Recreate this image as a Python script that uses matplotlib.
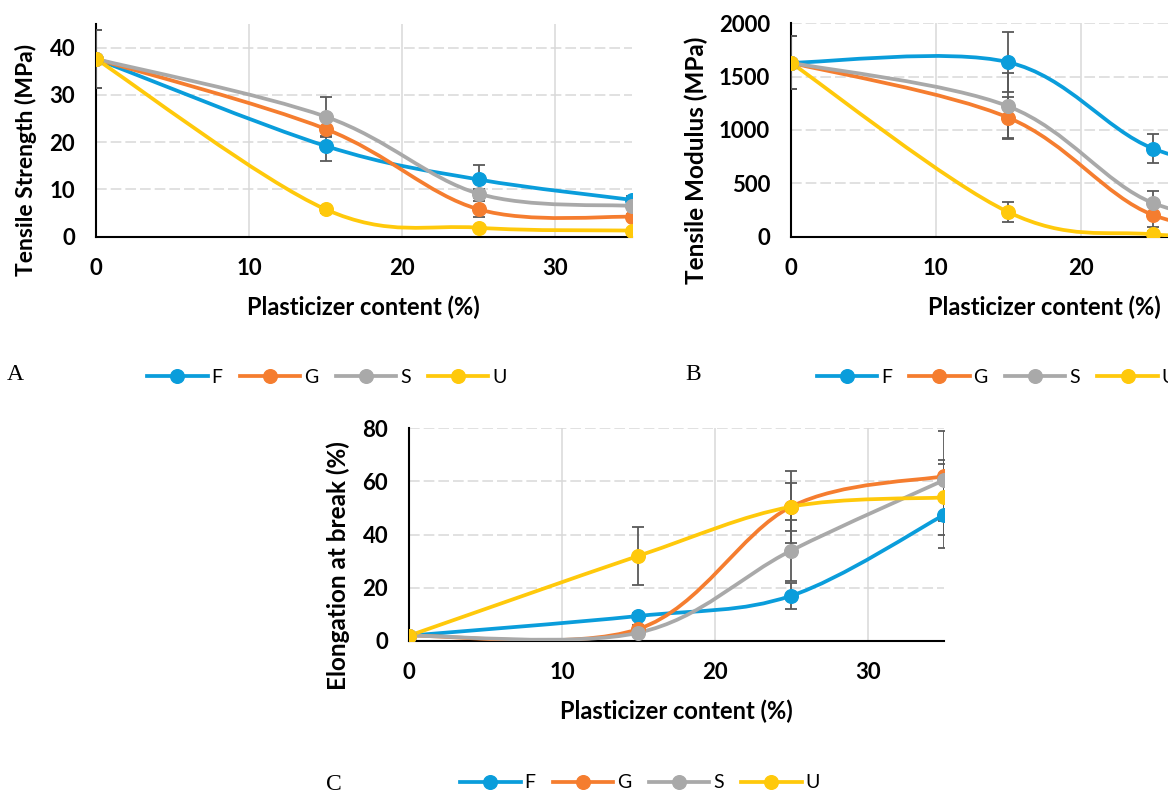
import numpy as np
import matplotlib
matplotlib.use("Agg")
import matplotlib.pyplot as plt
from matplotlib.path import Path
from matplotlib.patches import PathPatch
from matplotlib.lines import Line2D

plt.rcParams['font.family'] = ['Lato', 'DejaVu Sans']

# plasticizer content (%)
content = [0, 15, 25, 35]
series = ["F", "G", "S", "U"]
colors = ["#0a9ddb", "#f57d2f", "#a9a9a9", "#ffc90b"]

# tensile strength (MPa)
ts_F = [37.6, 19.2, 12.1, 7.8]
ts_G = [37.6, 22.8, 5.8, 4.2]
ts_S = [37.6, 25.4, 9.1, 6.5]
ts_U = [37.6, 5.8, 1.9, 1.3]
ts_F_err = [6.2, 3.1, 3.1, 0.8]
ts_G_err = [6.2, 1.8, 1.7, 0.6]
ts_S_err = [6.2, 4.2, 1.0, 0.6]
ts_U_err = [6.2, 0.7, 0.4, 0.3]

# tensile modulus (MPa)
tm_F = [1630, 1635, 826, 560]
tm_G = [1630, 1116, 203, 70]
tm_S = [1630, 1222, 315, 140]
tm_U = [1630, 231, 22, 10]
tm_F_err = [250, 280, 135, 100]
tm_G_err = [250, 190, 110, 60]
tm_S_err = [250, 310, 110, 60]
tm_U_err = [250, 90, 30, 10]

# elongation at break (%)
eb_F = [2, 9.4, 17, 47.4]
eb_G = [2, 4.5, 50.5, 62]
eb_S = [2, 3.1, 34, 60.5]
eb_U = [2, 32, 50.5, 54]
eb_F_err = [0.5, 1, 5, 12.5]
eb_G_err = [0.5, 1.5, 9, 17]
eb_S_err = [0.5, 1, 11.5, 6]
eb_U_err = [0.5, 11, 13.5, 14]


def smooth_path(x, y):
    # excel style smoothed line (bezier, 1/6 tension)
    pts = np.column_stack([x, y]).astype(float)
    n = len(pts)
    verts = [pts[0]]
    codes = [Path.MOVETO]
    for i in range(n - 1):
        p0 = pts[max(i - 1, 0)]
        p1 = pts[i]
        p2 = pts[i + 1]
        p3 = pts[min(i + 2, n - 1)]
        verts += [p1 + (p2 - p0) / 6, p2 - (p3 - p1) / 6, p2]
        codes += [Path.CURVE4] * 3
    return Path(verts, codes)


def panel(ax, ys, errs, ymax, yticks, ylabel, ylab_xy, ylab_size=17.5):
    for y, e, c in zip(ys, errs, colors):
        ax.add_patch(PathPatch(smooth_path(content, y), fill=False, edgecolor=c,
                               lw=2.7, capstyle='round', zorder=3))
        ax.errorbar(content, y, yerr=e, fmt='none', ecolor='#595959',
                    elinewidth=1.3, capsize=4, capthick=1.3, zorder=4)
        ax.plot(content, y, 'o', color=c, ms=9.8, zorder=5)
    ax.set_xlim(0, 35)
    ax.set_ylim(0, ymax)
    ax.set_xticks([0, 10, 20, 30])
    ax.set_yticks(yticks)
    ax.grid(axis='x', color='#d9d9d9', lw=1.1)
    ax.grid(axis='y', color='#d9d9d9', lw=1.1, linestyle=(0, (7, 2.6)))
    ax.set_axisbelow(True)
    for s in ['top', 'right']:
        ax.spines[s].set_visible(False)
    for s in ['left', 'bottom']:
        ax.spines[s].set_linewidth(1.5)
    ax.tick_params(length=0, pad=15, labelsize=16)
    for lab in ax.get_xticklabels() + ax.get_yticklabels():
        lab.set_fontweight('bold')
    ax.set_xlabel("Plasticizer content (%)", fontsize=17, fontweight='bold')
    ax.xaxis.set_label_coords(0.5, -0.275)
    ax.set_ylabel(ylabel, fontsize=ylab_size, fontweight='bold')
    ax.yaxis.set_label_coords(*ylab_xy)


fig = plt.figure(figsize=(11.68, 7.94), dpi=100)
axA = fig.add_axes([0.0822, 0.7019, 0.4585, 0.2679])
axB = fig.add_axes([0.6772, 0.7019, 0.434, 0.2688])
axC = fig.add_axes([0.3502, 0.1927, 0.458, 0.2679])

panel(axA, [ts_F, ts_G, ts_S, ts_U], [ts_F_err, ts_G_err, ts_S_err, ts_U_err],
      45, [0, 10, 20, 30, 40], "Tensile Strength (MPa)", (-0.11, 0.36), 16.5)
panel(axB, [tm_F, tm_G, tm_S, tm_U], [tm_F_err, tm_G_err, tm_S_err, tm_U_err],
      2000, [0, 500, 1000, 1500, 2000], "Tensile Modulus (MPa)", (-0.163, 0.36))
panel(axC, [eb_F, eb_G, eb_S, eb_U], [eb_F_err, eb_G_err, eb_S_err, eb_U_err],
      80, [0, 20, 40, 60, 80], "Elongation at break (%)", (-0.11, 0.353))

handles = [Line2D([], [], color=c, lw=2.7, marker='o', ms=9.8) for c in colors]
for cx, cy in [(0.280, 0.525), (0.853, 0.525), (0.548, 0.0139)]:
    fig.legend(handles, series, loc='center', bbox_to_anchor=(cx, cy), ncol=4,
               frameon=False, fontsize=14, handlelength=3.1, handletextpad=0.2,
               columnspacing=0.9, borderpad=0)

for txt, px, py in [("A", 15, 375), ("B", 693, 375), ("C", 334, 785)]:
    fig.text(px / 1168, 1 - py / 794, txt, fontsize=17, family='Liberation Serif',
             ha='center', va='center')

fig.savefig("out.png", dpi=100)
